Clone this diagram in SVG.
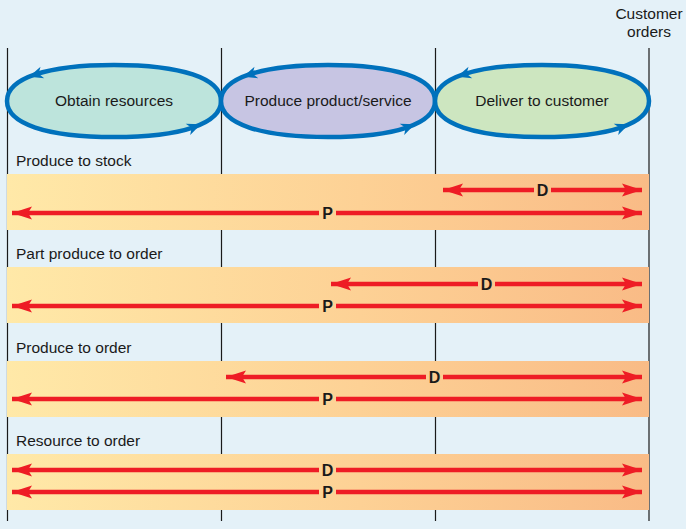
<svg xmlns="http://www.w3.org/2000/svg" width="686" height="529" viewBox="0 0 686 529">
<defs>
<linearGradient id="band" x1="0" y1="0" x2="1" y2="0">
<stop offset="0" stop-color="#FFE9A8"/>
<stop offset="0.55" stop-color="#FDD195"/>
<stop offset="1" stop-color="#F9BB86"/>
</linearGradient>
<marker id="ah" markerUnits="userSpaceOnUse" viewBox="0 -7 22 14" refX="20" refY="0" markerWidth="22" markerHeight="14" orient="auto-start-reverse">
<path d="M20,0 L0,-6.5 L4,0 L0,6.5 Z" fill="#EE1C25"/>
</marker>
<path id="eshape" d="M-107,0 C-107,-22.7 -67.4,-36 0,-36 C67.4,-36 107,-22.7 107,0 C107,22.7 67.4,36 0,36 C-67.4,36 -107,22.7 -107,0 Z"/>
<path id="ea" d="M1,0 L-13,-6 L-9,0 L-13,6 Z" fill="#0071BC"/>
</defs>
<style>
.lbl{font-family:"Liberation Sans",Arial,sans-serif;font-size:15.5px;fill:#1a1a1a}
.mid{text-anchor:middle}
.dp{font-family:"Liberation Sans",Arial,sans-serif;font-size:16px;font-weight:bold;fill:#1a1a1a;text-anchor:middle}
.vl{stroke:#1a1a1a;stroke-width:1.2}
.ell{stroke:#0071BC;stroke-width:4.5}
.ar{stroke:#EE1C25;stroke-width:4.5;fill:none}
.bandr{fill:url(#band)}
</style>
<rect x="0" y="0" width="686" height="529" fill="#E4F1F8"/>
<g id="grid">
<line class="vl" x1="7.5" y1="48" x2="7.5" y2="521"/>
<line class="vl" x1="221.5" y1="48" x2="221.5" y2="521"/>
<line class="vl" x1="435.5" y1="48" x2="435.5" y2="521"/>
<line class="vl" x1="649" y1="48" x2="649" y2="521"/>
</g>
<g id="customer-orders">
<text class="lbl mid" x="649" y="19">Customer</text>
<text class="lbl mid" x="649" y="37">orders</text>
</g>
<g id="obtain">
<use href="#eshape" class="ell" transform="translate(114,101)" fill="#BDE4DC"/>
<use href="#ea" transform="translate(30,76.5) rotate(162)"/>
<use href="#ea" transform="translate(200,124.5) rotate(-22)"/>
<text class="lbl mid" x="114" y="106">Obtain resources</text>
</g>
<g id="produce">
<use href="#eshape" class="ell" transform="translate(328,101)" fill="#C7C5E3"/>
<use href="#ea" transform="translate(244,76.5) rotate(162)"/>
<use href="#ea" transform="translate(414,124.5) rotate(-22)"/>
<text class="lbl mid" x="328" y="106">Produce product/service</text>
</g>
<g id="deliver">
<use href="#eshape" class="ell" transform="translate(542,101)" fill="#CDE6C0"/>
<use href="#ea" transform="translate(458,76.5) rotate(162)"/>
<use href="#ea" transform="translate(628,124.5) rotate(-22)"/>
<text class="lbl mid" x="542" y="106">Deliver to customer</text>
</g>
<g id="stock">
<text class="lbl" x="16" y="166">Produce to stock</text>
<rect class="bandr" x="7" y="174" width="642" height="56"/>
</g>
<g id="part">
<text class="lbl" x="16" y="259">Part produce to order</text>
<rect class="bandr" x="7" y="267" width="642" height="56"/>
</g>
<g id="pto">
<text class="lbl" x="16" y="353">Produce to order</text>
<rect class="bandr" x="7" y="361" width="642" height="56"/>
</g>
<g id="rto">
<text class="lbl" x="16" y="446">Resource to order</text>
<rect class="bandr" x="7" y="454" width="642" height="56"/>
</g>
<g id="connectors">
<line class="ar" x1="443" y1="190" x2="534" y2="190" marker-start="url(#ah)"/>
<line class="ar" x1="551" y1="190" x2="642" y2="190" marker-end="url(#ah)"/>
<text class="dp" x="542.5" y="196">D</text>
<line class="ar" x1="12" y1="213" x2="319" y2="213" marker-start="url(#ah)"/>
<line class="ar" x1="336" y1="213" x2="642" y2="213" marker-end="url(#ah)"/>
<text class="dp" x="327.5" y="219">P</text>

<line class="ar" x1="331" y1="284" x2="478" y2="284" marker-start="url(#ah)"/>
<line class="ar" x1="495" y1="284" x2="642" y2="284" marker-end="url(#ah)"/>
<text class="dp" x="486.5" y="290">D</text>
<line class="ar" x1="12" y1="306" x2="319" y2="306" marker-start="url(#ah)"/>
<line class="ar" x1="336" y1="306" x2="642" y2="306" marker-end="url(#ah)"/>
<text class="dp" x="327.5" y="312">P</text>

<line class="ar" x1="226" y1="377" x2="426" y2="377" marker-start="url(#ah)"/>
<line class="ar" x1="443" y1="377" x2="642" y2="377" marker-end="url(#ah)"/>
<text class="dp" x="434.5" y="383">D</text>
<line class="ar" x1="12" y1="399" x2="319" y2="399" marker-start="url(#ah)"/>
<line class="ar" x1="336" y1="399" x2="642" y2="399" marker-end="url(#ah)"/>
<text class="dp" x="327.5" y="405">P</text>

<line class="ar" x1="12" y1="470" x2="319" y2="470" marker-start="url(#ah)"/>
<line class="ar" x1="336" y1="470" x2="642" y2="470" marker-end="url(#ah)"/>
<text class="dp" x="327.5" y="476">D</text>
<line class="ar" x1="12" y1="492" x2="319" y2="492" marker-start="url(#ah)"/>
<line class="ar" x1="336" y1="492" x2="642" y2="492" marker-end="url(#ah)"/>
<text class="dp" x="327.5" y="498">P</text>
</g>
</svg>
